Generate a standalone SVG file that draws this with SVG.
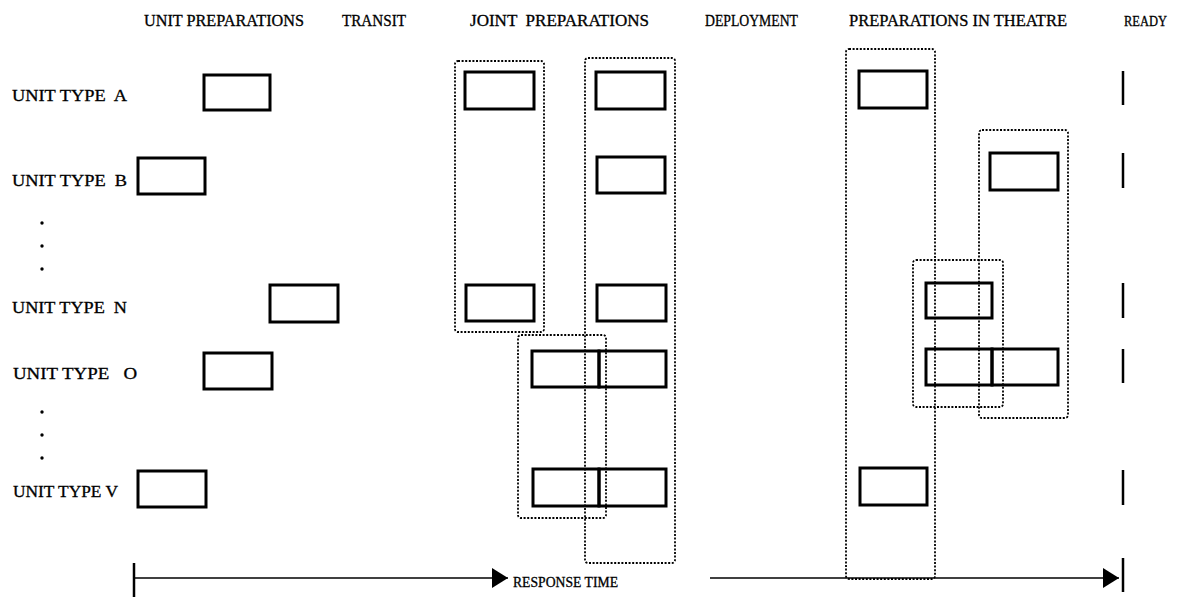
<svg xmlns="http://www.w3.org/2000/svg" width="1177" height="597" viewBox="0 0 1177 597">
  <style>
    text { font-family: "Liberation Serif", "DejaVu Serif", serif; font-size: 16px; fill: #000; stroke: #000; stroke-width: 0.3; white-space: pre; }
    .box { fill: none; stroke: #000; stroke-width: 3; }
    .grp { fill: none; stroke: #000; stroke-width: 1.8; stroke-dasharray: 2 1.6; }
    .tick { stroke: #000; stroke-width: 2.5; }
    .axis { stroke: #000; stroke-width: 1.6; fill: none; }
    .dot { fill: #000; }
  </style>
  <defs>
    <marker id="head" markerUnits="userSpaceOnUse" viewBox="0 0 16 20" refX="16" refY="10" markerWidth="16" markerHeight="20" orient="auto">
      <path d="M0,0 L16,10 L0,20 Z" fill="#000"/>
    </marker>
  </defs>
  <rect width="1177" height="597" fill="#fff"/>

  <!-- phase headings -->
  <g id="headings">
    <text x="144" y="26" textLength="160" lengthAdjust="spacingAndGlyphs">UNIT PREPARATIONS</text>
    <text x="342" y="26" textLength="64" lengthAdjust="spacingAndGlyphs">TRANSIT</text>
    <text x="470" y="26" textLength="179" lengthAdjust="spacingAndGlyphs">JOINT  PREPARATIONS</text>
    <text x="705" y="26" textLength="93" lengthAdjust="spacingAndGlyphs">DEPLOYMENT</text>
    <text x="849" y="26" textLength="218" lengthAdjust="spacingAndGlyphs">PREPARATIONS IN THEATRE</text>
    <text x="1124" y="26" textLength="43" lengthAdjust="spacingAndGlyphs" style="font-size:14px">READY</text>
  </g>

  <!-- unit rows -->
  <g id="row-labels">
    <text x="12" y="101" textLength="115" lengthAdjust="spacingAndGlyphs">UNIT TYPE  A</text>
    <text x="12" y="186" textLength="115" lengthAdjust="spacingAndGlyphs">UNIT TYPE  B</text>
    <text x="12" y="313" textLength="115" lengthAdjust="spacingAndGlyphs">UNIT TYPE  N</text>
    <text x="13" y="379" textLength="124" lengthAdjust="spacingAndGlyphs">UNIT TYPE   O</text>
    <text x="13" y="497" textLength="105" lengthAdjust="spacingAndGlyphs">UNIT TYPE V</text>
    <circle class="dot" cx="42" cy="223" r="1.7"/>
    <circle class="dot" cx="42" cy="246" r="1.7"/>
    <circle class="dot" cx="42" cy="269" r="1.7"/>
    <circle class="dot" cx="42" cy="412" r="1.7"/>
    <circle class="dot" cx="42" cy="435" r="1.7"/>
    <circle class="dot" cx="42" cy="458" r="1.7"/>
  </g>

  <!-- unit preparation tasks -->
  <g id="unit-prep">
    <rect class="box" x="204" y="75" width="66" height="35"/>
    <rect class="box" x="138" y="158" width="67" height="36"/>
    <rect class="box" x="270" y="285" width="68" height="37"/>
    <rect class="box" x="204" y="353" width="68" height="36"/>
    <rect class="box" x="138" y="471" width="68" height="36"/>
  </g>

  <!-- joint preparation tasks and groupings -->
  <g id="joint-group-1">
    <rect class="grp" x="455" y="61" width="89" height="271" rx="3"/>
  </g>
  <g id="joint-group-2">
    <rect class="grp" x="585" y="58" width="90" height="505" rx="3"/>
  </g>
  <g id="joint-group-3">
    <rect class="grp" x="518" y="335" width="88" height="183" rx="3"/>
  </g>
  <g id="joint-prep">
    <rect class="box" x="465" y="72" width="69" height="37"/>
    <rect class="box" x="596" y="72" width="69" height="37"/>
    <rect class="box" x="597" y="157" width="68" height="36"/>
    <rect class="box" x="466" y="285" width="68" height="36"/>
    <rect class="box" x="597" y="285" width="69" height="36"/>
    <rect class="box" x="532" y="351" width="67" height="36"/>
    <rect class="box" x="599" y="351" width="67" height="36"/>
    <rect class="box" x="533" y="469" width="66" height="37"/>
    <rect class="box" x="599" y="469" width="67" height="37"/>
  </g>

  <!-- in-theatre tasks and groupings -->
  <g id="theatre-group-1">
    <rect class="grp" x="846" y="49" width="89" height="530" rx="3"/>
  </g>
  <g id="theatre-group-2">
    <rect class="grp" x="979" y="130" width="89" height="288" rx="3"/>
  </g>
  <g id="theatre-group-3">
    <rect class="grp" x="913" y="260" width="90" height="147" rx="3"/>
  </g>
  <g id="theatre-prep">
    <rect class="box" x="859" y="71" width="68" height="37"/>
    <rect class="box" x="990" y="153" width="68" height="37"/>
    <rect class="box" x="926" y="283" width="66" height="35"/>
    <rect class="box" x="926" y="349" width="66" height="36"/>
    <rect class="box" x="992" y="349" width="66" height="36"/>
    <rect class="box" x="860" y="468" width="67" height="37"/>
  </g>

  <!-- ready markers -->
  <g id="ready">
    <line class="tick" x1="1123" y1="71" x2="1123" y2="105"/>
    <line class="tick" x1="1123" y1="153" x2="1123" y2="188"/>
    <line class="tick" x1="1123" y1="283" x2="1123" y2="318"/>
    <line class="tick" x1="1123" y1="349" x2="1123" y2="383"/>
    <line class="tick" x1="1123" y1="470" x2="1123" y2="505"/>
  </g>

  <!-- response time axis -->
  <g id="connectors">
    <line class="tick" x1="134" y1="563" x2="134" y2="597"/>
    <line class="axis" x1="134" y1="578" x2="508" y2="578" marker-end="url(#head)"/>
    <line class="axis" x1="710" y1="578" x2="1119" y2="578" marker-end="url(#head)"/>
    <line class="tick" x1="1123" y1="558" x2="1123" y2="592"/>
  </g>
  <g id="axis-label">
    <text x="513" y="587" textLength="105" lengthAdjust="spacingAndGlyphs" style="font-size:14px">RESPONSE TIME</text>
  </g>
</svg>
